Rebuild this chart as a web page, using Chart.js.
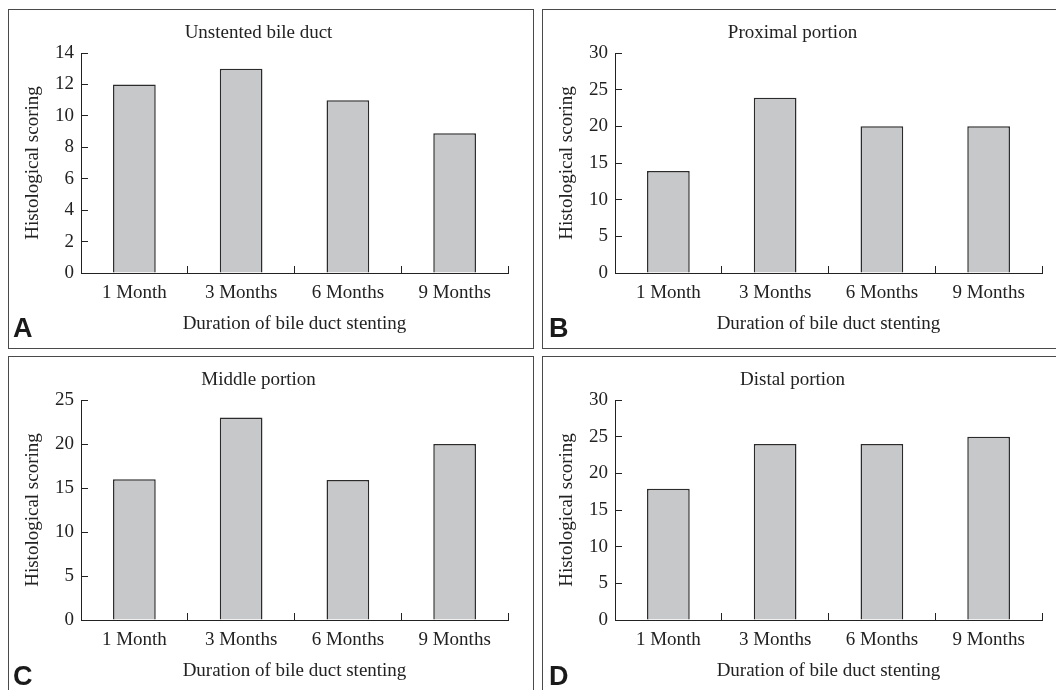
<!DOCTYPE html>
<html>
<head>
<meta charset="utf-8">
<script src="https://cdn.jsdelivr.net/npm/chart.js@4.4.1/dist/chart.umd.min.js"></script>
<style>
  html, body { margin: 0; padding: 0; background: #fff; }
  body { width: 1056px; height: 690px; position: relative; overflow: hidden; }
  .panel {
    position: absolute;
    width: 526px;
    height: 340px;
    box-sizing: border-box;
    border: 1px solid #4a4a4a;
  }
  .panel canvas { position: absolute; left: 0; top: 0; }
  .tag {
    position: absolute;
    font-family: "Liberation Sans", Arial, sans-serif;
    font-weight: bold;
    font-size: 27px;
    line-height: 1;
    color: #1a1a1a;
  }
</style>
</head>
<body>
<div class="panel" style="left:8px; top:9px;"><canvas id="chart-a" width="524" height="338"></canvas></div>
<div class="panel" style="left:542px; top:9px;"><canvas id="chart-b" width="524" height="338"></canvas></div>
<div class="panel" style="left:8px; top:356px;"><canvas id="chart-c" width="524" height="338"></canvas></div>
<div class="panel" style="left:542px; top:356px;"><canvas id="chart-d" width="524" height="338"></canvas></div>
<div class="tag" style="left:13px; top:315px;">A</div>
<div class="tag" style="left:549px; top:315px;">B</div>
<div class="tag" style="left:13px; top:663px;">C</div>
<div class="tag" style="left:549px; top:663px;">D</div>

<script>
// --- 資料 ---
const months = ['1 Month', '3 Months', '6 Months', '9 Months'];

const unstentedScores = [12, 13, 11, 8.9];
const proximalScores = [13.9, 23.9, 20, 20];
const middleScores = [16, 23, 15.9, 20];
const distalScores = [17.9, 24, 24, 25];

const yTicksA = [0, 2, 4, 6, 8, 10, 12, 14];
const yTicksB = [0, 5, 10, 15, 20, 25, 30];
const yTicksC = [0, 5, 10, 15, 20, 25];
const yTicksD = [0, 5, 10, 15, 20, 25, 30];

const xTitle = 'Duration of bile duct stenting';
const yTitle = 'Histological scoring';

const serif = 'Liberation Serif, "Times New Roman", serif';
const ink = '#222';

function makeChart(id, title, values, yTicks) {
    const ctx = document.getElementById(id).getContext('2d');
    const yMax = yTicks[yTicks.length - 1];
    const step = yTicks[1] - yTicks[0];

    return new Chart(ctx, {
        type: 'bar',
        data: {
            labels: months,
            datasets: [{
                data: values,
                backgroundColor: '#c7c8ca',
                borderColor: '#2b2b2b',
                borderWidth: 1.5,
                borderSkipped: 'bottom',
                barPercentage: 0.4,
                categoryPercentage: 1.0
            }]
        },
        options: {
            responsive: false,
            animation: false,
            layout: { padding: { left: 0, right: 25, top: 0, bottom: 0 } },
            plugins: {
                legend: { display: false },
                tooltip: { enabled: false },
                title: {
                    display: true,
                    text: title,
                    color: ink,
                    font: { family: serif, size: 19, weight: 'normal', lineHeight: 1.2 },
                    padding: { top: 11.6, bottom: 8.6 }
                }
            },
            scales: {
                x: {
                    grid: {
                        display: true,
                        drawOnChartArea: false,
                        drawTicks: true,
                        tickLength: -7, // 刻度朝內
                        color: ink,
                        offset: true
                    },
                    border: { display: true, color: ink, width: 1 },
                    ticks: {
                        color: ink,
                        padding: 15.5,
                        font: { family: serif, size: 19, lineHeight: 1.2 },
                        maxRotation: 0
                    },
                    title: {
                        display: true,
                        text: xTitle,
                        color: ink,
                        font: { family: serif, size: 19, lineHeight: 1.2 },
                        padding: { top: 0, bottom: 12.2 }
                    },
                    afterFit: (scale) => { scale.height = 75; }
                },
                y: {
                    min: 0,
                    max: yMax,
                    grid: {
                        display: true,
                        drawOnChartArea: false,
                        drawTicks: true,
                        tickLength: -7,
                        color: ink
                    },
                    border: { display: true, color: ink, width: 1 },
                    ticks: {
                        stepSize: step,
                        color: ink,
                        padding: 14,
                        font: { family: serif, size: 19, lineHeight: 1.2 }
                    },
                    title: {
                        display: true,
                        text: yTitle,
                        color: ink,
                        font: { family: serif, size: 19, lineHeight: 1.2 },
                        padding: { top: 12.4, bottom: 0 }
                    },
                    afterFit: (scale) => { scale.width = 72; }
                }
            }
        }
    });
}

makeChart('chart-a', 'Unstented bile duct', unstentedScores, yTicksA);
makeChart('chart-b', 'Proximal portion', proximalScores, yTicksB);
makeChart('chart-c', 'Middle portion', middleScores, yTicksC);
makeChart('chart-d', 'Distal portion', distalScores, yTicksD);
</script>
</body>
</html>
